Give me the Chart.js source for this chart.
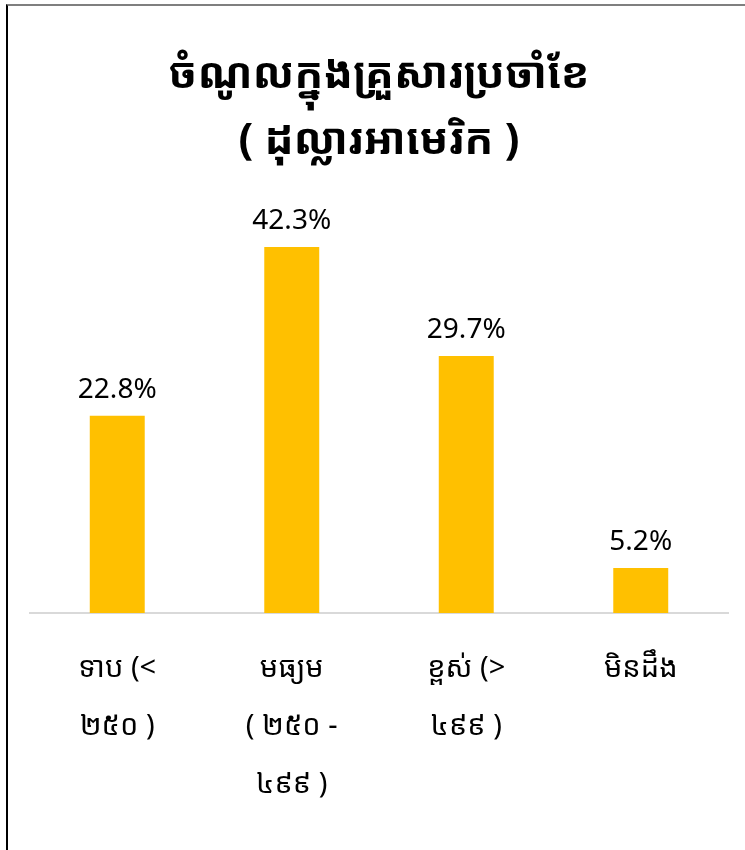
<!DOCTYPE html>
<html>
<head>
<meta charset="utf-8">
<script src="https://cdn.jsdelivr.net/npm/chart.js@4/dist/chart.umd.min.js"></script>
<style>
  html, body { margin: 0; padding: 0; background: #fff; }
  #wrap { position: relative; width: 745px; height: 850px; }
  #frame { position: absolute; left: 6px; top: 4px; right: 0; bottom: 0;
           border-top: 2px solid #7f7f7f; border-left: 2px solid #000; pointer-events: none; }
  canvas { position: absolute; left: 0; top: 0; }
</style>
</head>
<body>
<div id="wrap">
  <canvas id="c" width="745" height="850"></canvas>
  <div id="frame"></div>
</div>
<script>
const titleLines = ["ចំណូលក្នុងគ្រួសារប្រចាំខែ", "( ដុល្លារអាមេរិក )"];
const categories = [
  ["ទាប (<", "២៥០ )"],
  ["មធ្យម", "( ២៥០ -", "៤៩៩ )"],
  ["ខ្ពស់ (>", "៤៩៩ )"],
  ["មិនដឹង"]
];
const values = [22.8, 42.3, 29.7, 5.2];

const FONT = "'Noto Sans Khmer', 'Khmer OS', 'Leelawadee UI', 'Noto Sans', sans-serif";

const valueLabels = {
  id: 'valueLabels',
  afterDatasetsDraw(chart) {
    const ctx = chart.ctx;
    const meta = chart.getDatasetMeta(0);
    ctx.save();
    ctx.font = "28px " + FONT;
    ctx.fillStyle = "#000";
    ctx.textAlign = "center";
    ctx.textBaseline = "alphabetic";
    meta.data.forEach((bar, i) => {
      ctx.fillText(values[i].toFixed(1) + "%", bar.x, bar.y - 18);
    });
    ctx.restore();
  }
};

new Chart(document.getElementById('c'), {
  type: 'bar',
  data: {
    labels: categories,
    datasets: [{
      data: values,
      backgroundColor: '#ffc000',
      categoryPercentage: 0.63,
      barPercentage: 0.5
    }]
  },
  options: {
    responsive: false,
    animation: false,
    layout: { padding: { left: 30, right: 17, top: 10, bottom: 9 } },
    plugins: {
      legend: { display: false },
      tooltip: { enabled: false },
      title: {
        display: true,
        text: titleLines,
        color: '#000',
        font: { family: FONT, size: 43, weight: 'bold', lineHeight: 1.55 },
        padding: { top: 32, bottom: 5 }
      }
    },
    scales: {
      y: { display: false, min: 0, max: 50 },
      x: {
        grid: { display: false, drawTicks: false },
        border: { display: true, color: '#d9d9d9', width: 2 },
        ticks: {
          color: '#000',
          font: { family: FONT, size: 29, lineHeight: 2.0 },
          padding: 27,
          maxRotation: 0,
          autoSkip: false
        }
      }
    }
  },
  plugins: [valueLabels]
});
</script>
</body>
</html>
